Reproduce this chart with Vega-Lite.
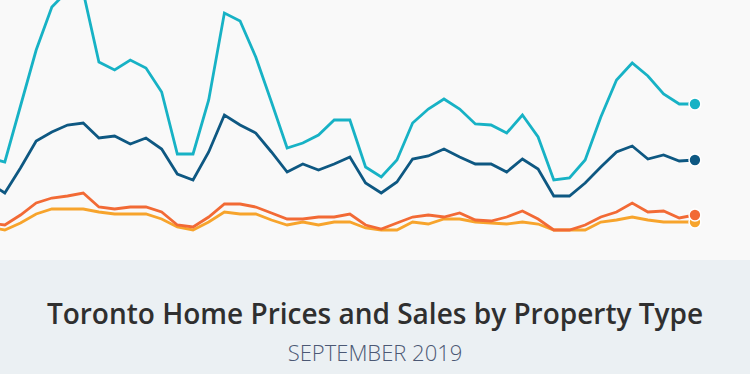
{
  "$schema": "https://vega.github.io/schema/vega-lite/v6.json",
  "width": 750,
  "height": 260,
  "autosize": {"type": "pad"},
  "padding": {"left": 0, "top": 0, "right": 0, "bottom": 9},
  "background": "#ebf0f3",
  "config": {"view": {"fill": "#f9f9f9", "stroke": null}},
  "title": {
    "text": "Toronto Home Prices and Sales by Property Type",
    "subtitle": "SEPTEMBER 2019",
    "orient": "bottom",
    "anchor": "middle",
    "offset": 42,
    "font": "Open Sans",
    "fontSize": 28,
    "fontWeight": 600,
    "color": "#2f2f2f",
    "subtitleFont": "Open Sans",
    "subtitleFontSize": 22,
    "subtitleFontWeight": 300,
    "subtitleColor": "#4b5874",
    "subtitlePadding": 14
  },
  "data": {
    "values": [
      {"month": "2015-12", "idx": -1, "Detached": 102, "Semi-Detached": 77, "Condo": 33, "Townhouse": 37},
      {"month": "2016-01", "idx": 0, "Detached": 98, "Semi-Detached": 67, "Condo": 30, "Townhouse": 35},
      {"month": "2016-02", "idx": 1, "Detached": 154, "Semi-Detached": 92, "Condo": 37, "Townhouse": 45},
      {"month": "2016-03", "idx": 2, "Detached": 210, "Semi-Detached": 119, "Condo": 46, "Townhouse": 57},
      {"month": "2016-04", "idx": 3, "Detached": 253, "Semi-Detached": 128, "Condo": 51, "Townhouse": 62},
      {"month": "2016-05", "idx": 4, "Detached": 269, "Semi-Detached": 135, "Condo": 51, "Townhouse": 64},
      {"month": "2016-06", "idx": 5, "Detached": 268, "Semi-Detached": 137, "Condo": 51, "Townhouse": 67},
      {"month": "2016-07", "idx": 6, "Detached": 198, "Semi-Detached": 122, "Condo": 48, "Townhouse": 53},
      {"month": "2016-08", "idx": 7, "Detached": 190, "Semi-Detached": 124, "Condo": 46, "Townhouse": 51},
      {"month": "2016-09", "idx": 8, "Detached": 200, "Semi-Detached": 116, "Condo": 46, "Townhouse": 53},
      {"month": "2016-10", "idx": 9, "Detached": 192, "Semi-Detached": 122, "Condo": 46, "Townhouse": 53},
      {"month": "2016-11", "idx": 10, "Detached": 168, "Semi-Detached": 111, "Condo": 41, "Townhouse": 48},
      {"month": "2016-12", "idx": 11, "Detached": 106, "Semi-Detached": 86, "Condo": 33, "Townhouse": 35},
      {"month": "2017-01", "idx": 12, "Detached": 106, "Semi-Detached": 80, "Condo": 30, "Townhouse": 33},
      {"month": "2017-02", "idx": 13, "Detached": 160, "Semi-Detached": 108, "Condo": 38, "Townhouse": 43},
      {"month": "2017-03", "idx": 14, "Detached": 247, "Semi-Detached": 145, "Condo": 48, "Townhouse": 56},
      {"month": "2017-04", "idx": 15, "Detached": 239, "Semi-Detached": 135, "Condo": 46, "Townhouse": 56},
      {"month": "2017-05", "idx": 16, "Detached": 203, "Semi-Detached": 127, "Condo": 46, "Townhouse": 53},
      {"month": "2017-06", "idx": 17, "Detached": 158, "Semi-Detached": 108, "Condo": 40, "Townhouse": 47},
      {"month": "2017-07", "idx": 18, "Detached": 112, "Semi-Detached": 88, "Condo": 35, "Townhouse": 41},
      {"month": "2017-08", "idx": 19, "Detached": 117, "Semi-Detached": 96, "Condo": 38, "Townhouse": 41},
      {"month": "2017-09", "idx": 20, "Detached": 125, "Semi-Detached": 90, "Condo": 35, "Townhouse": 43},
      {"month": "2017-10", "idx": 21, "Detached": 140, "Semi-Detached": 96, "Condo": 38, "Townhouse": 43},
      {"month": "2017-11", "idx": 22, "Detached": 140, "Semi-Detached": 103, "Condo": 38, "Townhouse": 46},
      {"month": "2017-12", "idx": 23, "Detached": 93, "Semi-Detached": 77, "Condo": 32, "Townhouse": 35},
      {"month": "2018-01", "idx": 24, "Detached": 83, "Semi-Detached": 67, "Condo": 30, "Townhouse": 31},
      {"month": "2018-02", "idx": 25, "Detached": 100, "Semi-Detached": 78, "Condo": 30, "Townhouse": 37},
      {"month": "2018-03", "idx": 26, "Detached": 137, "Semi-Detached": 101, "Condo": 38, "Townhouse": 43},
      {"month": "2018-04", "idx": 27, "Detached": 151, "Semi-Detached": 104, "Condo": 36, "Townhouse": 45},
      {"month": "2018-05", "idx": 28, "Detached": 161, "Semi-Detached": 111, "Condo": 41, "Townhouse": 43},
      {"month": "2018-06", "idx": 29, "Detached": 151, "Semi-Detached": 103, "Condo": 41, "Townhouse": 47},
      {"month": "2018-07", "idx": 30, "Detached": 136, "Semi-Detached": 96, "Condo": 38, "Townhouse": 40},
      {"month": "2018-08", "idx": 31, "Detached": 135, "Semi-Detached": 96, "Condo": 37, "Townhouse": 39},
      {"month": "2018-09", "idx": 32, "Detached": 127, "Semi-Detached": 88, "Condo": 36, "Townhouse": 43},
      {"month": "2018-10", "idx": 33, "Detached": 145, "Semi-Detached": 101, "Condo": 38, "Townhouse": 49},
      {"month": "2018-11", "idx": 34, "Detached": 123, "Semi-Detached": 91, "Condo": 36, "Townhouse": 41},
      {"month": "2018-12", "idx": 35, "Detached": 80, "Semi-Detached": 64, "Condo": 30, "Townhouse": 30},
      {"month": "2019-01", "idx": 36, "Detached": 82, "Semi-Detached": 64, "Condo": 30, "Townhouse": 30},
      {"month": "2019-02", "idx": 37, "Detached": 100, "Semi-Detached": 77, "Condo": 30, "Townhouse": 35},
      {"month": "2019-03", "idx": 38, "Detached": 143, "Semi-Detached": 93, "Condo": 38, "Townhouse": 43},
      {"month": "2019-04", "idx": 39, "Detached": 180, "Semi-Detached": 108, "Condo": 40, "Townhouse": 48},
      {"month": "2019-05", "idx": 40, "Detached": 197, "Semi-Detached": 114, "Condo": 43, "Townhouse": 57},
      {"month": "2019-06", "idx": 41, "Detached": 184, "Semi-Detached": 101, "Condo": 40, "Townhouse": 48},
      {"month": "2019-07", "idx": 42, "Detached": 166, "Semi-Detached": 105, "Condo": 38, "Townhouse": 49},
      {"month": "2019-08", "idx": 43, "Detached": 156, "Semi-Detached": 99, "Condo": 38, "Townhouse": 42},
      {"month": "2019-09", "idx": 44, "Detached": 156, "Semi-Detached": 100, "Condo": 38, "Townhouse": 45}
    ]
  },
  "transform": [
    {"fold": ["Detached", "Semi-Detached", "Condo", "Townhouse"], "as": ["type", "value"]}
  ],
  "encoding": {
    "x": {"field": "idx", "type": "quantitative", "scale": {"domain": [-0.306, 47.51], "nice": false, "zero": false}, "axis": null},
    "y": {"field": "value", "type": "quantitative", "scale": {"domain": [0, 260], "nice": false, "zero": false}, "axis": null},
    "color": {
      "field": "type",
      "type": "nominal",
      "scale": {"domain": ["Detached", "Semi-Detached", "Condo", "Townhouse"], "range": ["#17b2c5", "#0e5882", "#f7a42c", "#f26a35"]},
      "legend": null
    }
  },
  "layer": [
    {"mark": {"type": "line", "strokeWidth": 2.8, "clip": true, "strokeJoin": "miter"}},
    {
      "transform": [{"filter": "datum.idx == 44"}],
      "mark": {"type": "circle", "size": 140, "opacity": 1, "stroke": "#ffffff", "strokeWidth": 1.5}
    }
  ]
}
